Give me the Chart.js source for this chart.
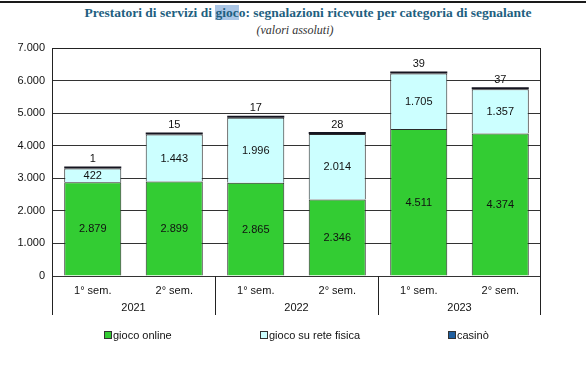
<!DOCTYPE html>
<html>
<head>
<meta charset="utf-8">
<script src="https://cdn.jsdelivr.net/npm/chart.js@4.4.1/dist/chart.umd.min.js"></script>
<style>
  html, body { margin: 0; padding: 0; background: #fff; }
  #wrap { position: relative; width: 586px; height: 369px; overflow: hidden; }
  #topline { position: absolute; left: 0; top: 1px; width: 586px; height: 0; border-top: 2px solid #1a1a1a; }
  #title { position: absolute; left: 0; top: 5px; width: 616px; text-align: center;
           font-family: "Liberation Serif", "DejaVu Serif", serif; font-weight: bold; font-size: 13.5px; color: #1f5f7f; }
  #title .hl { background: #aac6e6; }
  #subtitle { position: absolute; left: 0; top: 23px; width: 590px; text-align: center;
              font-family: "Liberation Serif", serif; font-style: italic; font-size: 12px; color: #333; }
  canvas { position: absolute; left: 0; top: 0; }
  .leg { position: absolute; top: 329px; font-family: "Liberation Sans", Arial, sans-serif; font-size: 11px; color: #111; white-space: nowrap; }
  .leg i { display: inline-block; width: 6px; height: 6px; border: 1px solid #333; margin-right: 1px; vertical-align: 0px; }
</style>
</head>
<body>
<div id="wrap">
  <div id="topline"></div>
  <div id="title">Prestatori di servizi di <span class="hl">gioc</span>o: segnalazioni ricevute per categoria di segnalante</div>
  <div id="subtitle">(valori assoluti)</div>
  <canvas id="c" width="586" height="369"></canvas>
  <div id="legend"></div>
</div>
<script>
const semesters = ["1° sem.", "2° sem.", "1° sem.", "2° sem.", "1° sem.", "2° sem."];
const years = ["2021", "2022", "2023"];
const seriesNames = ["gioco online", "gioco su rete fisica", "casinò"];
const giocoOnline = [2879, 2899, 2865, 2346, 4511, 4374];
const reteFisica = [422, 1443, 1996, 2014, 1705, 1357];
const casino = [1, 15, 17, 28, 39, 37];
const yTicks = [0, 1000, 2000, 3000, 4000, 5000, 6000, 7000];

const colors = ["#33cc33", "#ccffff", "#1f5f9f"];
const fmt = v => String(v).replace(/\B(?=(\d{3})+(?!\d))/g, ".");

const labelPlugin = {
  id: "labels",
  afterDatasetsDraw(chart) {
    const ctx = chart.ctx;
    ctx.save();
    ctx.font = "11px 'Liberation Sans', Arial, sans-serif";
    ctx.fillStyle = "#111";
    ctx.textAlign = "center";
    chart.data.datasets.forEach((ds, di) => {
      const meta = chart.getDatasetMeta(di);
      meta.data.forEach((bar, i) => {
        const v = ds.data[i];
        if (di < 2) {
          ctx.textBaseline = "middle";
          ctx.fillText(fmt(v), bar.x, (bar.y + bar.base) / 2 + 0.5);
        } else {
          ctx.textBaseline = "bottom";
          ctx.fillText(fmt(v), bar.x, Math.min(bar.y, bar.base) - 2);
        }
      });
    });
    ctx.restore();
  },
  afterDraw(chart) {
    const ctx = chart.ctx;
    const a = chart.chartArea;
    const xs = chart.scales.x;
    const bottom = a.bottom + 39;
    ctx.save();
    ctx.strokeStyle = "#222";
    ctx.lineWidth = 1;
    ctx.beginPath();
    ctx.moveTo(a.left + 0.5, a.top + 0.5); ctx.lineTo(a.right - 0.5, a.top + 0.5);
    ctx.moveTo(a.left + 0.5, a.top); ctx.lineTo(a.left + 0.5, bottom);
    ctx.moveTo(a.right - 0.5, a.top); ctx.lineTo(a.right - 0.5, bottom);
    const step = xs.getPixelForValue(1) - xs.getPixelForValue(0);
    for (let g = 1; g < years.length; g++) {
      const x = Math.round(xs.getPixelForValue(g * 2) - step / 2) + 0.5;
      ctx.moveTo(x, a.bottom); ctx.lineTo(x, bottom);
    }
    ctx.stroke();
    ctx.font = "11px 'Liberation Sans', Arial, sans-serif";
    ctx.fillStyle = "#111";
    ctx.textAlign = "center";
    ctx.textBaseline = "middle";
    years.forEach((y, g) => {
      const x = (xs.getPixelForValue(g * 2) + xs.getPixelForValue(g * 2 + 1)) / 2;
      ctx.fillText(y, x, a.bottom + 32);
    });
    ctx.restore();
  }
};

new Chart(document.getElementById("c"), {
  type: "bar",
  data: {
    labels: semesters,
    datasets: [
      { label: seriesNames[0], data: giocoOnline, backgroundColor: colors[0], borderColor: "#2a2a2a", borderWidth: 1 },
      { label: seriesNames[1], data: reteFisica, backgroundColor: colors[1], borderColor: "#2a2a2a", borderWidth: 1 },
      { label: seriesNames[2], data: casino, backgroundColor: "#151520", borderWidth: 0, minBarLength: 2 }
    ]
  },
  options: {
    responsive: false,
    animation: false,
    devicePixelRatio: 1,
    layout: { padding: { top: 48, right: 45, bottom: 54, left: 0 } },
    datasets: { bar: { categoryPercentage: 1, barPercentage: 0.7 } },
    plugins: { legend: { display: false }, tooltip: { enabled: false }, title: { display: false } },
    scales: {
      x: {
        stacked: true,
        grid: { display: false, drawTicks: false },
        border: { display: false },
        ticks: { padding: 8, color: "#111", font: { family: "'Liberation Sans', Arial, sans-serif", size: 11 } },
        afterFit(s) { s.height = 39; }
      },
      y: {
        stacked: true,
        min: 0, max: 7000,
        afterBuildTicks(s) { s.ticks = yTicks.map(v => ({ value: v })); },
        grid: { color: "#333", lineWidth: 1, drawTicks: false },
        border: { display: false },
        ticks: { padding: 7, color: "#111", font: { family: "'Liberation Sans', Arial, sans-serif", size: 11 }, callback: v => fmt(v) },
        afterFit(s) { s.width = 52; }
      }
    }
  },
  plugins: [labelPlugin]
});

const legendX = [104, 260, 448];
const legendColors = ["#33cc33", "#ccffff", "#1f5f9f"];
const legend = document.getElementById("legend");
seriesNames.forEach((n, i) => {
  const d = document.createElement("div");
  d.className = "leg";
  d.style.left = legendX[i] + "px";
  d.innerHTML = '<i style="background:' + legendColors[i] + '"></i>' + n;
  legend.appendChild(d);
});
</script>
</body>
</html>
